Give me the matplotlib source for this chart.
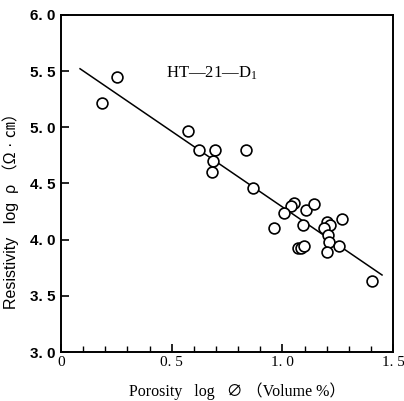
import matplotlib
matplotlib.use('Agg')
import matplotlib.pyplot as plt
import numpy as np
from matplotlib.ticker import MultipleLocator

# 数据
log_phi = [0.185, 0.253, 0.574, 0.624, 0.696, 0.687, 0.682, 0.836, 0.868,
           1.053, 1.039, 1.008, 1.107, 1.143, 0.962, 1.094, 1.202, 1.213,
           1.188, 1.270, 1.207, 1.211, 1.256, 1.202, 1.071, 1.085, 1.098, 1.405]
log_rho = [5.22, 5.45, 4.97, 4.80, 4.80, 4.70, 4.60, 4.80, 4.46,
           4.33, 4.30, 4.24, 4.26, 4.32, 4.10, 4.13, 4.16, 4.13,
           4.10, 4.18, 4.04, 3.98, 3.94, 3.89, 3.93, 3.93, 3.94, 3.63]
# 回归线
fit_x = [0.086, 1.45]
slope = -1.345
intercept = 5.636
xtick_vals = [0, 0.5, 1.0, 1.5]
xtick_labels = ['0', '0. 5', '1. 0', '1. 5']
ytick_vals = [3.0, 3.5, 4.0, 4.5, 5.0, 5.5, 6.0]
ytick_labels = ['3. 0', '3. 5', '4. 0', '4. 5', '5. 0', '5. 5', '6. 0']

plt.rcParams['mathtext.fontset'] = 'stix'

fig = plt.figure(figsize=(4.04, 4.01), dpi=100)
ax = fig.add_axes([0.151, 0.122, 0.822, 0.841])

fx = np.array(fit_x)
ax.plot(fx, slope * fx + intercept, color='black', lw=1.1)
ax.plot(log_phi, log_rho, 'o', mfc='white', mec='black', ms=7.8, mew=1.2)

ax.set_xlim(0, 1.5)
ax.set_ylim(3.0, 6.0)
ax.set_xticks(xtick_vals)
ax.set_xticklabels(xtick_labels, family='Liberation Serif', fontsize=11)
ax.set_yticks(ytick_vals)
ax.set_yticklabels(ytick_labels, family='Liberation Sans', fontsize=11, fontweight='bold')
ax.xaxis.set_minor_locator(MultipleLocator(0.1))
ax.tick_params(which='major', direction='in', length=6, width=1.2, pad=3)
ax.tick_params(which='minor', direction='in', length=4, width=1.0)
ax.tick_params(axis='y', which='major', pad=4)
for s in ax.spines.values():
    s.set_linewidth(1.4)

ax.text(0.68, 5.48, 'HT\u201421\u2014D$_\\mathregular{1}$', family='Liberation Serif',
        fontsize=12, ha='center', va='center')

ax.set_xlabel('Porosity   log   \u2205 （Volume %）', family=['Liberation Serif', 'Noto Sans CJK JP'],
              fontsize=11.5)
ax.set_ylabel('Resistivity   log  ρ （Ω · ㎝）', family=['Liberation Sans', 'Noto Sans CJK JP'],
              fontsize=11.5)
ax.xaxis.set_label_coords(0.53, -0.089)
ax.yaxis.set_label_coords(-0.127, 0.43)

plt.savefig('out.png', dpi=100)
